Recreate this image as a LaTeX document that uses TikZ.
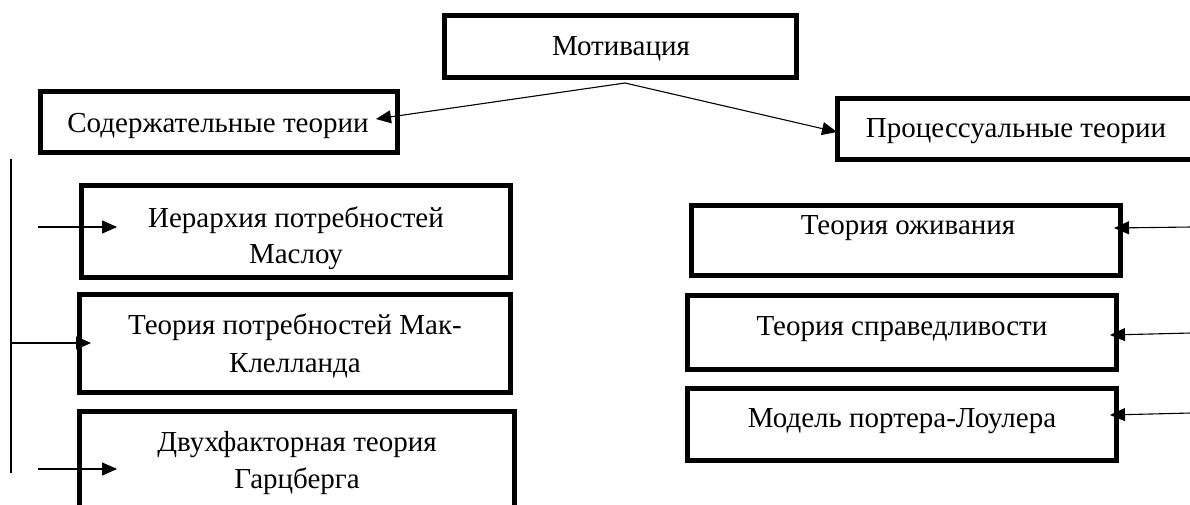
\documentclass[tikz,border=0pt]{standalone}
\usepackage{fontspec}
\setmainfont{Liberation Serif}
\usetikzlibrary{arrows.meta}
\begin{document}
\begin{tikzpicture}[x=1pt,y=-1pt,
 boxnode/.style={draw, line width=5pt, inner sep=0pt},
 lbl/.style={font=\fontsize{29}{36}\selectfont, inner sep=0pt, anchor=base},
 conn/.style={line width=1.1pt, -{Triangle[length=15pt,width=13pt]}},
 plainline/.style={line width=1.1pt}]
\useasboundingbox (0,0) rectangle (1190,504);
% top level
\node[boxnode, minimum width=352pt, minimum height=62pt] (M) at (620.5,46.5) {};
\node[lbl] (Mt) at (621,55) {Мотивация};
\node[boxnode, minimum width=357pt, minimum height=61pt] (S) at (219,122) {};
\node[lbl] (St) at (218,132) {Содержательные теории};
\node[boxnode, minimum width=360pt, minimum height=61pt] (P) at (1017.5,129) {};
\node[lbl] (Pt) at (1016,137) {Процессуальные теории};
% left boxes
\node[boxnode, minimum width=429pt, minimum height=92pt] (B1) at (296,231.5) {};
\begin{scope}
\clip (79,183) rectangle (513,268);
\node[lbl] (B1a) at (296,227) {Иерархия потребностей};
\node[lbl] (B1b) at (296,263) {Маслоу};
\end{scope}
\node[boxnode, minimum width=431pt, minimum height=98pt] (B2) at (295,343.5) {};
\node[lbl] (B2a) at (295,334) {Теория потребностей Мак-};
\node[lbl] (B2b) at (295,372) {Клелланда};
\node[boxnode, minimum width=435pt, minimum height=126pt] (B3) at (297,474.5) {};
\node[lbl] (B3a) at (297,451) {Двухфакторная теория};
\node[lbl] (B3b) at (297,488) {Гарцберга};
% right boxes
\node[boxnode, minimum width=429pt, minimum height=70pt] (R1) at (906,240.5) {};
\node[lbl] (R1t) at (908,234) {Теория оживания};
\node[boxnode, minimum width=429pt, minimum height=74pt] (R2) at (902,332.5) {};
\node[lbl] (R2t) at (902,335) {Теория справедливости};
\node[boxnode, minimum width=429pt, minimum height=72pt] (R3) at (902,424.5) {};
\node[lbl] (R3t) at (902,427) {Модель портера-Лоулера};
% connector coordinates
\coordinate (apex) at (625,83);
\coordinate (Stip) at (376,119);
\coordinate (Ptip) at (837,132);
\coordinate (vtop) at (11,159);
\coordinate (vbot) at (11,473);
\coordinate (v2) at (11,343);
\coordinate (a1s) at (38,227);
\coordinate (a1t) at (117,227);
\coordinate (a2t) at (91,343);
\coordinate (a3s) at (38,469);
\coordinate (a3t) at (117,469);
\coordinate (r1s) at (1191,227);
\coordinate (r1t) at (1114,228);
\coordinate (r2s) at (1191,333);
\coordinate (r2t) at (1110,335);
\coordinate (r3s) at (1191,413);
\coordinate (r3t) at (1110,415);
% connectors
\draw[conn] (apex) -- (Stip);
\draw[conn] (apex) -- (Ptip);
\draw[plainline] (vtop) -- (vbot);
\draw[conn] (a1s) -- (a1t);
\draw[conn] (v2) -- (a2t);
\draw[conn] (a3s) -- (a3t);
\draw[conn] (r1s) -- (r1t);
\draw[conn] (r2s) -- (r2t);
\draw[conn] (r3s) -- (r3t);
\end{tikzpicture}
\end{document}
